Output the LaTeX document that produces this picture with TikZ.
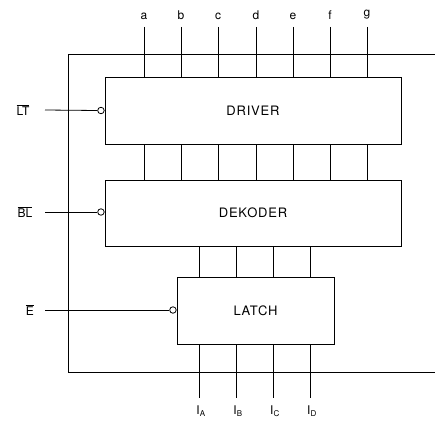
\documentclass[tikz,border=0pt]{standalone}
\usepackage{fontspec}
\setmainfont{TeX Gyre Heros}
\usepackage{tikz}
\usetikzlibrary{positioning}

\begin{document}
\begin{tikzpicture}[
    x=1pt,
    y=-1pt,
    line width=0.8pt,
    block/.style={
        draw,
        rectangle,
        inner sep=0pt,
        font=\fontsize{13}{15}\selectfont\addfontfeature{LetterSpace=6}
    },
    pin/.style={
        inner sep=1pt,
        font=\fontsize{12}{14}\selectfont
    },
    bubble/.style={
        draw,
        circle,
        fill=white,
        inner sep=0pt,
        minimum size=6.5pt
    }
]

\useasboundingbox (0,0) rectangle (435,420);

% blocks
\node[block, minimum width=296pt, minimum height=67pt] (driver) at (253,110.5) {DRIVER};
\node[block, minimum width=296pt, minimum height=66pt] (dekoder) at (253,213) {DEKODER};
\node[block, minimum width=157pt, minimum height=67pt] (latch) at (255.5,310.5) {LATCH};

% outer frame
\coordinate (frameTR) at (435,54);
\coordinate (frameTL) at (68,54);
\coordinate (frameBL) at (68,372);
\coordinate (frameBR) at (435,372);
\draw (frameTR) -- (frameTL) -- (frameBL) -- (frameBR);

% segment outputs
\foreach \l/\x in {a/144,b/181,c/218,d/256,e/293,f/330,g/367}{
    \node[pin, anchor=south] (out\l) at (\x,21) {\l};
    \draw (out\l.south) ++(0,6) -- (out\l |- driver.north);
    \draw (driver.south -| out\l) -- (dekoder.north -| out\l);
}

% bcd inputs
\foreach \l/\x in {A/199,B/236,C/273,D/310}{
    \node[pin] (in\l) at (\x+2,411) {I\textsubscript{\l}};
    \draw (latch.south -| \x,0) -- (\x,398);
    \draw (dekoder.south -| \x,0) -- (latch.north -| \x,0);
}

% control inputs
\node[pin] (lt) at (23,110) {$\overline{\mbox{LT}}$};
\node[bubble, left=0pt of driver.west] (ltb) {};
\draw (45,110) -- (ltb.west);

\node[pin] (bl) at (25,212) {$\overline{\mbox{BL}}$};
\node[bubble, left=0pt of dekoder.west |- bl] (blb) {};
\draw (45,212) -- (blb.west);

\node[pin] (en) at (30,310) {$\overline{\mbox{E}}$};
\node[bubble, left=0pt of latch.west |- en] (enb) {};
\draw (45,310) -- (enb.west);

\end{tikzpicture}
\end{document}
